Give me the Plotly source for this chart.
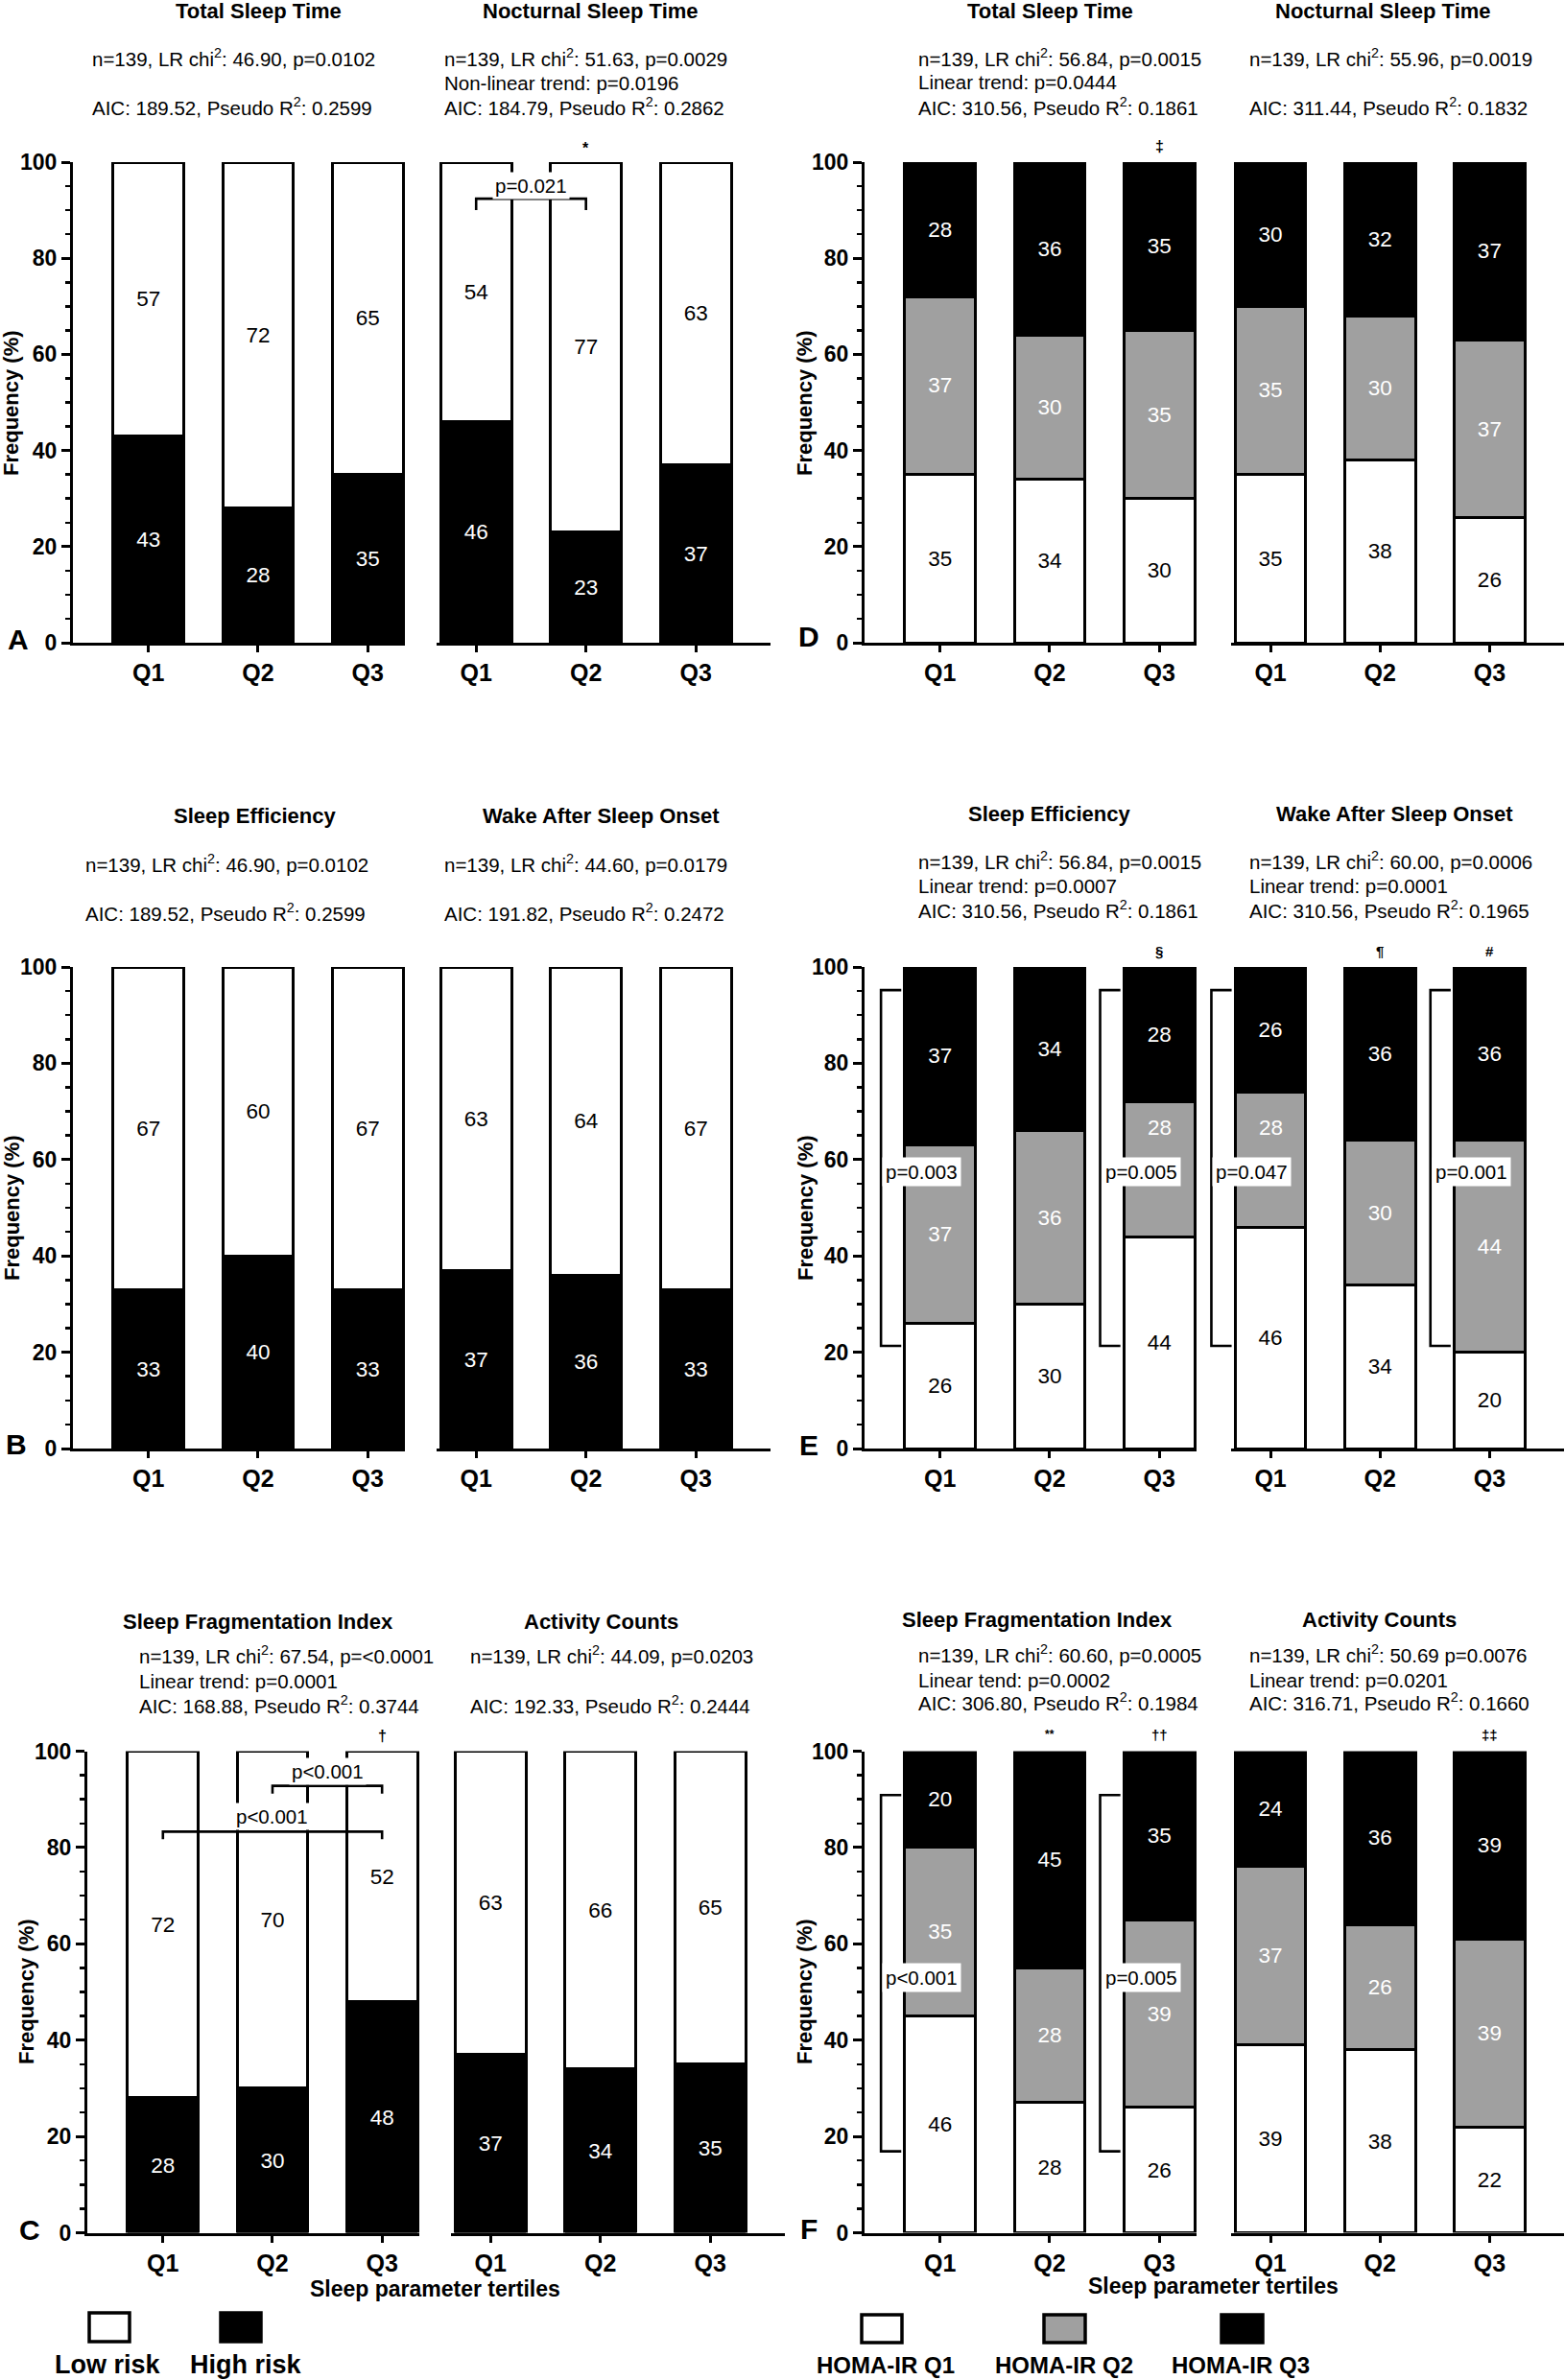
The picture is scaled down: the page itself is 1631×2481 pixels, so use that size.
import plotly.graph_objects as go

W, H = 1631, 2481
QS = ["Q1", "Q2", "Q3"]

# ---------------- data (percent per sleep-parameter tertile) ----------------
# Panels A-C : Low risk / High risk
tst_low, tst_high = [57, 72, 65], [43, 28, 35]
nst_low, nst_high = [54, 77, 63], [46, 23, 37]
se_low, se_high = [67, 60, 67], [33, 40, 33]
waso_low, waso_high = [63, 64, 67], [37, 36, 33]
sfi_low, sfi_high = [72, 70, 52], [28, 30, 48]
ac_low, ac_high = [63, 66, 65], [37, 34, 35]

# Panels D-F : HOMA-IR Q1 / Q2 / Q3
tst_h1, tst_h2, tst_h3 = [35, 34, 30], [37, 30, 35], [28, 36, 35]
nst_h1, nst_h2, nst_h3 = [35, 38, 26], [35, 30, 37], [30, 32, 37]
se_h1, se_h2, se_h3 = [26, 30, 44], [37, 36, 28], [37, 34, 28]
waso_h1, waso_h2, waso_h3 = [46, 34, 20], [28, 30, 44], [26, 36, 36]
sfi_h1, sfi_h2, sfi_h3 = [46, 28, 26], [35, 28, 39], [20, 45, 35]
sfi_h1_drawn = [45, 27, 26]   # drawn bar heights (labels are rounded)
ac_h1, ac_h2, ac_h3 = [39, 38, 22], [37, 26, 39], [24, 36, 39]

FONT = "Liberation Sans, Arial, Helvetica, sans-serif"
BLACK, GRAY, WHITE = "#000000", "#a0a0a0", "#ffffff"
LEFT_RANGE = [-0.69, 2.34]
RIGHT_RANGE = [-0.36, 2.68]

LEFT_A, RIGHT_A = (76, 422), (455, 803)
LEFT_C, RIGHT_C = (91, 437), (470, 818)
LEFT_D, RIGHT_D = (901, 1247), (1283, 1630)
ROW1, ROW2, ROW3 = (169, 670), (1008, 1510), (1825.5, 2327.5)

BAR_TXT = 22.5
STAT_TXT = 20.5


def risk(low, high):
    return [(high, high, BLACK, "white"), (low, low, WHITE, "black")]


def homa(h1, h2, h3, h1_draw=None):
    return [(h1_draw or h1, h1, WHITE, "black"), (h2, h2, GRAY, "white"), (h3, h3, BLACK, "white")]


subs = [
    dict(dom=LEFT_A, row=ROW1, side="L", series=risk(tst_low, tst_high)),
    dict(dom=RIGHT_A, row=ROW1, side="R", series=risk(nst_low, nst_high)),
    dict(dom=LEFT_A, row=ROW2, side="L", series=risk(se_low, se_high)),
    dict(dom=RIGHT_A, row=ROW2, side="R", series=risk(waso_low, waso_high)),
    dict(dom=LEFT_C, row=ROW3, side="L", series=risk(sfi_low, sfi_high)),
    dict(dom=RIGHT_C, row=ROW3, side="R", series=risk(ac_low, ac_high)),
    dict(dom=LEFT_D, row=ROW1, side="L", series=homa(tst_h1, tst_h2, tst_h3)),
    dict(dom=RIGHT_D, row=ROW1, side="R", series=homa(nst_h1, nst_h2, nst_h3)),
    # labels lifted inside their segment so the p-value boxes do not hide them
    dict(dom=LEFT_D, row=ROW2, side="L", series=homa(se_h1, se_h2, se_h3), lift={(1, 2): 0.81}),
    dict(dom=RIGHT_D, row=ROW2, side="R", series=homa(waso_h1, waso_h2, waso_h3), lift={(1, 0): 0.74}),
    dict(dom=LEFT_D, row=ROW3, side="L", series=homa(sfi_h1, sfi_h2, sfi_h3, sfi_h1_drawn)),
    dict(dom=RIGHT_D, row=ROW3, side="R", series=homa(ac_h1, ac_h2, ac_h3)),
]


def PX(x):
    return x / W


def PY(y):
    return 1 - y / H


def xpx(i, idx):
    s = subs[i]
    r = LEFT_RANGE if s["side"] == "L" else RIGHT_RANGE
    x0, x1 = s["dom"]
    return x0 + (idx - r[0]) * (x1 - x0) / (r[1] - r[0])


def ypx(i, val):
    yt, yb = subs[i]["row"]
    return yb - val / 100.0 * (yb - yt)


fig = go.Figure()
layout = dict(
    width=W, height=H, margin=dict(l=0, r=0, t=0, b=0, pad=0, autoexpand=False),
    paper_bgcolor="white", plot_bgcolor="rgba(0,0,0,0)", hovermode=False,
    barmode="stack", showlegend=False, font=dict(family=FONT, color="black"),
)

annotations = []
shapes = []

for i, s in enumerate(subs):
    n = i + 1
    xk = "xaxis" if n == 1 else f"xaxis{n}"
    yk = "yaxis" if n == 1 else f"yaxis{n}"
    xr = "x" if n == 1 else f"x{n}"
    yr = "y" if n == 1 else f"y{n}"
    x0, x1 = s["dom"]
    yt, yb = s["row"]
    layout[xk] = dict(
        domain=[PX(x0), PX(x1)], anchor=yr, type="category", categoryorder="array",
        categoryarray=QS, range=LEFT_RANGE if s["side"] == "L" else RIGHT_RANGE,
        showline=True, linewidth=3, linecolor="black", ticks="outside", ticklen=7,
        tickwidth=3, tickcolor="black", showgrid=False, zeroline=False, automargin=False,
        tickfont=dict(family=FONT, size=25, color="black", weight="bold"), fixedrange=True,
    )
    if s["side"] == "L":
        layout[yk] = dict(
            domain=[PY(yb), PY(yt)], anchor=xr, range=[0, 100], tick0=0, dtick=20,
            showline=True, linewidth=3, linecolor="black", ticks="outside", ticklen=9,
            tickwidth=3, tickcolor="black", showgrid=False, zeroline=False, automargin=False,
            tickfont=dict(family=FONT, size=23, color="black", weight="bold"), fixedrange=True,
            minor=dict(dtick=5, ticks="outside", ticklen=5, tickwidth=2.5, tickcolor="black", showgrid=False),
        )
    else:
        layout[yk] = dict(
            domain=[PY(yb), PY(yt)], anchor=xr, range=[0, 100], showline=False, automargin=False,
            showticklabels=False, ticks="", showgrid=False, zeroline=False, fixedrange=True,
        )
    lift = s.get("lift", {})
    base = [0, 0, 0]
    for ti, (heights, labels, fill, tcol) in enumerate(s["series"]):
        texts = []
        for k in range(3):
            if (ti, k) in lift:
                texts.append("")
                annotations.append(dict(
                    text=str(labels[k]), x=QS[k], y=base[k] + lift[(ti, k)] * heights[k],
                    xref=xr, yref=yr, showarrow=False, xanchor="center", yanchor="middle",
                    font=dict(family=FONT, size=BAR_TXT, color=tcol),
                ))
            else:
                texts.append(str(labels[k]))
        fig.add_trace(go.Bar(
            x=QS, y=heights, text=texts, textposition="inside",
            insidetextanchor="middle", textangle=0, constraintext="none",
            textfont=dict(family=FONT, size=BAR_TXT, color=tcol),
            marker=dict(color=fill, line=dict(color="black", width=3)),
            width=0.645, xaxis=xr, yaxis=yr, cliponaxis=False, hoverinfo="skip",
        ))
        base = [b + h for b, h in zip(base, heights)]


def ann(text, x, y, size=20, bold=False, xanchor="center", yanchor="middle", bg=None, angle=0, pad=1):
    d = dict(
        text=text, x=PX(x), y=PY(y), xref="paper", yref="paper", showarrow=False,
        xanchor=xanchor, yanchor=yanchor, textangle=angle, borderpad=pad,
        font=dict(family=FONT, size=size, color="black", weight="bold" if bold else "normal"),
    )
    if bg:
        d["bgcolor"] = bg
    annotations.append(d)


# titles
titles = [
    (269, 11, "Total Sleep Time"), (615, 11, "Nocturnal Sleep Time"),
    (266, 850, "Sleep Efficiency"), (626, 850, "Wake After Sleep Onset"),
    (269, 1690, "Sleep Fragmentation Index"), (626, 1690, "Activity Counts"),
    (1094, 11, "Total Sleep Time"), (1441, 11, "Nocturnal Sleep Time"),
    (1094, 848, "Sleep Efficiency"), (1453, 848, "Wake After Sleep Onset"),
    (1081, 1688, "Sleep Fragmentation Index"), (1437, 1688, "Activity Counts"),
]
for x, y, t in titles:
    ann(t, x, y, size=22, bold=True)

C2 = "chi<sup>2</sup>"
R2 = "R<sup>2</sup>"
stats = [
    (94, 64, f"n=139, LR {C2}: 46.90, p=0.0102"), (94, 114, f"AIC: 189.52, Pseudo {R2}: 0.2599"),
    (461, 64, f"n=139, LR {C2}: 51.63, p=0.0029"), (461, 86.5, "Non-linear trend: p=0.0196"),
    (461, 114, f"AIC: 184.79, Pseudo {R2}: 0.2862"),
    (87, 903.5, f"n=139, LR {C2}: 46.90, p=0.0102"), (87, 954, f"AIC: 189.52, Pseudo {R2}: 0.2599"),
    (461, 903.5, f"n=139, LR {C2}: 44.60, p=0.0179"), (461, 954, f"AIC: 191.82, Pseudo {R2}: 0.2472"),
    (143, 1728.5, f"n=139, LR {C2}: 67.54, p=&lt;0.0001"), (143, 1752, "Linear trend: p=0.0001"),
    (143, 1780, f"AIC: 168.88, Pseudo {R2}: 0.3744"),
    (488, 1728.5, f"n=139, LR {C2}: 44.09, p=0.0203"), (488, 1780, f"AIC: 192.33, Pseudo {R2}: 0.2444"),
    (955, 64, f"n=139, LR {C2}: 56.84, p=0.0015"), (955, 86, "Linear trend: p=0.0444"),
    (955, 114, f"AIC: 310.56, Pseudo {R2}: 0.1861"),
    (1300, 64, f"n=139, LR {C2}: 55.96, p=0.0019"), (1300, 114, f"AIC: 311.44, Pseudo {R2}: 0.1832"),
    (955, 900.5, f"n=139, LR {C2}: 56.84, p=0.0015"), (955, 923.5, "Linear trend: p=0.0007"),
    (955, 951, f"AIC: 310.56, Pseudo {R2}: 0.1861"),
    (1300, 900.5, f"n=139, LR {C2}: 60.00, p=0.0006"), (1300, 923.5, "Linear trend: p=0.0001"),
    (1300, 951, f"AIC: 310.56, Pseudo {R2}: 0.1965"),
    (955, 1727, f"n=139, LR {C2}: 60.60, p=0.0005"), (955, 1751, "Linear tend: p=0.0002"),
    (955, 1777, f"AIC: 306.80, Pseudo {R2}: 0.1984"),
    (1300, 1727, f"n=139, LR {C2}: 50.69 p=0.0076"), (1300, 1751, "Linear trend: p=0.0201"),
    (1300, 1777, f"AIC: 316.71, Pseudo {R2}: 0.1660"),
]
for x, y, t in stats:
    ann(t, x, y - (3.5 if "<sup>" in t else 0), size=STAT_TXT, xanchor="left")

# significance symbols above bars
symbols = [
    (1, 1, 154, "*", 16), (6, 2, 153, "‡", 16),
    (8, 2, 991, "§", 15), (9, 1, 991, "¶", 15), (9, 2, 991, "#", 15),
    (4, 2, 1809, "†", 16), (10, 1, 1808, "**", 12), (10, 2, 1808, "††", 15), (11, 2, 1808, "‡‡", 15),
]
for si, idx, y, t, sz in symbols:
    ann(t, xpx(si, idx), y, size=sz, bold=True)

LW = 2.6


def hbracket(si, ia, ib, v_line, v_tick, label, v_label):
    xa, xb = PX(xpx(si, ia)), PX(xpx(si, ib))
    yl, yk = PY(ypx(si, v_line)), PY(ypx(si, v_tick))
    shapes.append(dict(type="path", xref="paper", yref="paper",
                       path=f"M{xa},{yk} L{xa},{yl} L{xb},{yl} L{xb},{yk}",
                       line=dict(color="black", width=LW)))
    ann(label, (xpx(si, ia) + xpx(si, ib)) / 2, ypx(si, v_label), size=STAT_TXT, bg="white", pad=2)


def vbracket(si, idx, v_top, v_bot, label, v_label):
    xv = xpx(si, idx - 0.54)
    xa = xpx(si, idx - 0.355)
    shapes.append(dict(type="path", xref="paper", yref="paper",
                       path=(f"M{PX(xa)},{PY(ypx(si, v_top))} L{PX(xv)},{PY(ypx(si, v_top))} "
                             f"L{PX(xv)},{PY(ypx(si, v_bot))} L{PX(xa)},{PY(ypx(si, v_bot))}"),
                       line=dict(color="black", width=LW)))
    ann(label, xv + 1, ypx(si, v_label), size=STAT_TXT, bg="white", xanchor="left", pad=3)


hbracket(1, 0, 1, 92.4, 90.0, "p=0.021", 95.2)
hbracket(4, 1, 2, 92.8, 91.2, "p&lt;0.001", 95.8)
hbracket(4, 0, 2, 83.3, 81.7, "p&lt;0.001", 86.5)

vbracket(8, 0, 95.2, 21.3, "p=0.003", 57.4)
vbracket(8, 2, 95.2, 21.3, "p=0.005", 57.4)
vbracket(9, 0, 95.2, 21.3, "p=0.047", 57.4)
vbracket(9, 2, 95.2, 21.3, "p=0.001", 57.4)
vbracket(10, 0, 90.9, 16.9, "p&lt;0.001", 52.9)
vbracket(10, 2, 90.9, 16.9, "p=0.005", 52.9)

# y-axis titles and panel letters
for x, y in [(12, 420), (12, 1259), (27, 2076), (839, 420), (839, 1259), (838, 2076)]:
    ann("Frequency (%)", x, y, size=22, bold=True, angle=-90)
for t, x, y in [("A", 19, 666), ("B", 17, 1505), ("C", 31, 2324),
                ("D", 843, 663), ("E", 843, 1506), ("F", 843, 2323)]:
    ann(t, x, y, size=30, bold=True)

# x-axis titles
ann("Sleep parameter tertiles", 453, 2385.5, size=23, bold=True)
ann("Sleep parameter tertiles", 1264, 2383, size=23, bold=True)

# legends
legend_items = [
    (93, 135, 2411, 2441, WHITE, "Low risk", 112, 27),
    (230, 272, 2411, 2441, BLACK, "High risk", 256, 27),
    (898, 940, 2413, 2442, WHITE, "HOMA-IR Q1", 923, 24),
    (1088, 1131, 2413, 2442, GRAY, "HOMA-IR Q2", 1109, 24),
    (1273, 1316, 2413, 2442, BLACK, "HOMA-IR Q3", 1293, 24),
]
for x0, x1, y0, y1, fill, label, lx, sz in legend_items:
    shapes.append(dict(type="rect", xref="paper", yref="paper", x0=PX(x0), x1=PX(x1),
                       y0=PY(y1), y1=PY(y0), fillcolor=fill, line=dict(color="black", width=3.5)))
    ann(label, lx, 2465, size=sz, bold=True)

layout["annotations"] = annotations
layout["shapes"] = shapes
fig.update_layout(**layout)
# page body margin removed so the figure sits at the window's top-left corner
fig.write_html("out.html", config={"displayModeBar": False, "staticPlot": True},
               post_script="document.body.style.margin='0px';")
